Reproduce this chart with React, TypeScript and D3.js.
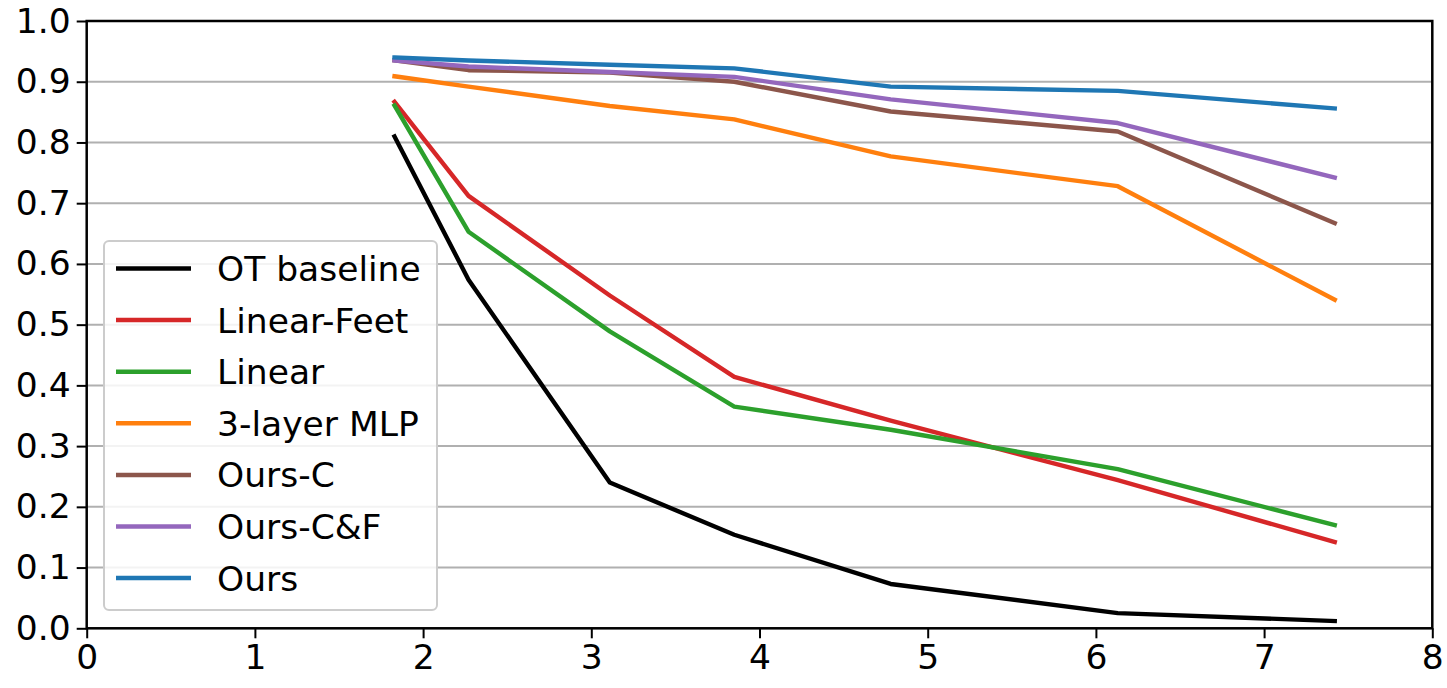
import { useEffect, useRef } from 'react';
import * as d3 from 'd3';

const xValues = [1.83, 2.27, 3.11, 3.85, 4.78, 6.13, 7.42];

const seriesNames = ['OT baseline', 'Linear-Feet', 'Linear', '3-layer MLP', 'Ours-C', 'Ours-C&F', 'Ours'];
const seriesColors = ['#000000', '#d62728', '#2ca02c', '#ff7f0e', '#8c564b', '#9467bd', '#1f77b4'];

const otBaseline = [0.81, 0.574, 0.24, 0.154, 0.073, 0.025, 0.012];
const linearFeet = [0.867, 0.712, 0.548, 0.414, 0.342, 0.244, 0.142];
const linear = [0.861, 0.653, 0.489, 0.365, 0.327, 0.262, 0.17];
const mlp3 = [0.909, 0.892, 0.86, 0.838, 0.777, 0.728, 0.541];
const oursC = [0.935, 0.919, 0.915, 0.9, 0.851, 0.818, 0.667];
const oursCF = [0.935, 0.925, 0.916, 0.908, 0.871, 0.832, 0.742];
const ours = [0.94, 0.935, 0.928, 0.922, 0.892, 0.885, 0.856];

const seriesValues = [otBaseline, linearFeet, linear, mlp3, oursC, oursCF, ours];

const xTicks = [0, 1, 2, 3, 4, 5, 6, 7, 8];
const yTicks = [0, 0.1, 0.2, 0.3, 0.4, 0.5, 0.6, 0.7, 0.8, 0.9, 1.0];

export default function App() {
    const svgRef = useRef<SVGSVGElement>(null);

    useEffect(() => {
        document.body.style.margin = '0';
        if (!svgRef.current) return;

        const W = 1447, H = 688;
        const left = 86.7, right = 1432.3, top = 21, bottom = 628.3;
        const font = 'DejaVu Sans, sans-serif';
        const fs = 34.5;

        const svg = d3.select(svgRef.current);
        svg.selectAll('*').remove();
        svg.attr('width', W).attr('height', H);
        svg.append('rect').attr('width', W).attr('height', H).attr('fill', '#fff');

        const x = d3.scaleLinear().domain([0, 8]).range([left, right]);
        const y = d3.scaleLinear().domain([0, 1]).range([bottom, top]);

        // Gridlines (horizontal only)
        svg.append('g')
            .selectAll('line')
            .data(yTicks)
            .join('line')
            .attr('x1', left).attr('x2', right)
            .attr('y1', d => y(d)).attr('y2', d => y(d))
            .attr('stroke', '#b0b0b0').attr('stroke-width', 2);

        // Series lines
        const line = d3.line<number>()
            .x((_, i) => x(xValues[i]))
            .y(d => y(d));

        seriesValues.forEach((vals, i) => {
            svg.append('path')
                .datum(vals)
                .attr('d', line)
                .attr('fill', 'none')
                .attr('stroke', seriesColors[i])
                .attr('stroke-width', 4.4)
                .attr('stroke-linecap', 'square')
                .attr('stroke-linejoin', 'round');
        });

        // Axes
        const xAxis = d3.axisBottom(x).tickValues(xTicks).tickFormat(d3.format('d')).tickSize(10).tickPadding(6);
        const yAxis = d3.axisLeft(y).tickValues(yTicks).tickFormat(d3.format('.1f')).tickSize(10).tickPadding(6);

        const gx = svg.append('g').attr('transform', `translate(0,${bottom})`).call(xAxis);
        gx.select('.domain').remove();
        gx.selectAll('line').attr('stroke', '#000').attr('stroke-width', 2);
        gx.selectAll('text').attr('font-size', fs).attr('font-family', font).attr('fill', '#000');

        const gy = svg.append('g').attr('transform', `translate(${left},0)`).call(yAxis);
        gy.select('.domain').remove();
        gy.selectAll('line').attr('stroke', '#000').attr('stroke-width', 2);
        gy.selectAll('text').attr('font-size', fs).attr('font-family', font).attr('fill', '#000');

        // Frame
        svg.append('rect')
            .attr('x', left).attr('y', top)
            .attr('width', right - left).attr('height', bottom - top)
            .attr('fill', 'none').attr('stroke', '#000').attr('stroke-width', 2.5);

        // Legend
        const leg = svg.append('g').attr('transform', 'translate(104,241)');
        leg.append('rect')
            .attr('width', 333).attr('height', 369).attr('rx', 5)
            .attr('fill', '#fff').attr('fill-opacity', 0.85)
            .attr('stroke', '#cccccc').attr('stroke-width', 2);
        const rows = leg.selectAll('g.row')
            .data(seriesNames)
            .join('g')
            .attr('class', 'row')
            .attr('transform', (_, i) => `translate(0,${27.5 + i * 51.6})`);
        rows.append('line')
            .attr('x1', 12).attr('x2', 87)
            .attr('stroke', (_, i) => seriesColors[i])
            .attr('stroke-width', 4.5);
        rows.append('text')
            .attr('x', 113).attr('y', 12.5)
            .attr('font-size', fs).attr('font-family', font).attr('fill', '#000')
            .text(d => d);
    }, []);

    return <svg ref={svgRef} style={{ display: 'block' }} />;
}
